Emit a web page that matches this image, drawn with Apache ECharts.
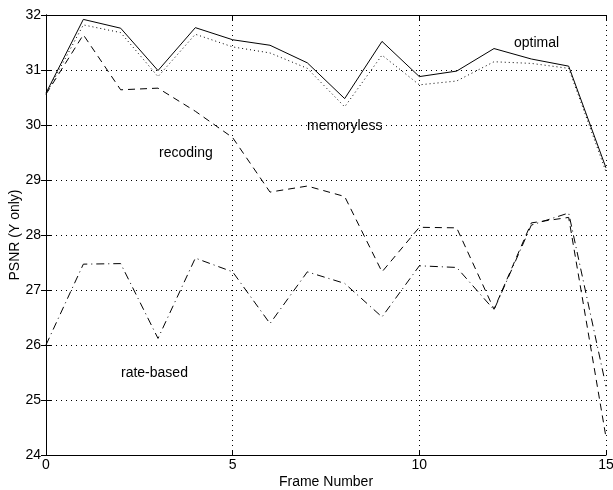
<!DOCTYPE html>
<html>
<head>
<meta charset="utf-8">
<script src="https://cdn.jsdelivr.net/npm/echarts@6/dist/echarts.min.js"></script>
<style>html,body{margin:0;padding:0;background:#fff}#c{width:613px;height:490px}</style>
</head>
<body>
<div id="c"></div>
<script>
var frames = [0,1,2,3,4,5,6,7,8,9,10,11,12,13,14,15];
var optimal    = [30.58,31.92,31.76,30.99,31.77,31.55,31.45,31.13,30.48,31.52,30.88,30.98,31.39,31.20,31.07,29.22];
var memoryless = [30.56,31.82,31.68,30.88,31.65,31.42,31.31,31.03,30.33,31.27,30.73,30.80,31.15,31.12,31.03,29.15];
var recoding   = [30.56,31.64,30.64,30.67,30.25,29.77,28.78,28.89,28.70,27.33,28.14,28.13,26.65,28.22,28.32,24.32];
var rateBased  = [26.00,27.47,27.48,26.12,27.58,27.33,26.39,27.33,27.12,26.51,27.44,27.41,26.64,28.18,28.40,25.25];
var xTicks = [0,5,10,15];
var yTicks = [24,25,26,27,28,29,30,31,32];

function pairs(v){ return frames.map(function(f,i){ return [f, v[i]]; }); }
var font = 'Liberation Sans, Arial, sans-serif';
var chart = echarts.init(document.getElementById('c'), null, {renderer:'canvas'});
var tickStyle = {show:true, inside:true, length:5, lineStyle:{color:'#000', width:1}};
var split = {show:true, lineStyle:{color:'#000', type:[1,4], width:1}};
chart.setOption({
  animation:false,
  backgroundColor:'#fff',
  grid:{left:46, right:7, top:15, bottom:35, containLabel:false, outerBoundsMode:'none'},
  xAxis:[{
    type:'value', min:0, max:15, interval:5, position:'bottom',
    axisLine:{show:true, lineStyle:{color:'#000', width:1}},
    axisTick:tickStyle, splitLine:split,
    axisLabel:{color:'#000', fontFamily:font, fontSize:14, margin:3},
    name:'Frame Number', nameLocation:'middle', nameGap:20, nameMoveOverlap:false,
    nameTextStyle:{color:'#000', fontFamily:font, fontSize:14}
  },{
    type:'value', min:0, max:15, interval:5, position:'top',
    axisLine:{show:true, lineStyle:{color:'#000', width:1}},
    axisTick:tickStyle, splitLine:{show:false}, axisLabel:{show:false}
  }],
  yAxis:[{
    type:'value', min:24, max:32, interval:1, position:'left',
    axisLine:{show:true, lineStyle:{color:'#000', width:1}},
    axisTick:tickStyle, splitLine:split,
    axisLabel:{color:'#000', fontFamily:font, fontSize:14, margin:5},
    name:'PSNR (Y only)', nameLocation:'middle', nameGap:24, nameRotate:90, nameMoveOverlap:false,
    nameTextStyle:{color:'#000', fontFamily:font, fontSize:14}
  },{
    type:'value', min:24, max:32, interval:1, position:'right',
    axisLine:{show:true, lineStyle:{color:'#000', width:1}},
    axisTick:tickStyle, splitLine:{show:false}, axisLabel:{show:false}
  }],
  series:[
    {type:'line', name:'optimal', data:pairs(optimal), symbol:'none', lineStyle:{color:'#000', width:1, type:'solid'}},
    {type:'line', name:'memoryless', data:pairs(memoryless), symbol:'none', lineStyle:{color:'#000', width:1, type:[1,3]}},
    {type:'line', name:'recoding', data:pairs(recoding), symbol:'none', lineStyle:{color:'#000', width:1, type:[7,5]}},
    {type:'line', name:'rate-based', data:pairs(rateBased), symbol:'none', lineStyle:{color:'#000', width:1, type:[8,4,1,4]}}
  ],
  graphic:[
    {type:'text', x:514, y:43, style:{text:'optimal', font:'14px '+font, fill:'#000', verticalAlign:'middle'}},
    {type:'text', x:307, y:126, style:{text:'memoryless', font:'14px '+font, fill:'#000', verticalAlign:'middle'}},
    {type:'text', x:159, y:153, style:{text:'recoding', font:'14px '+font, fill:'#000', verticalAlign:'middle'}},
    {type:'text', x:121, y:373, style:{text:'rate-based', font:'14px '+font, fill:'#000', verticalAlign:'middle'}}
  ]
});
</script>
</body>
</html>
